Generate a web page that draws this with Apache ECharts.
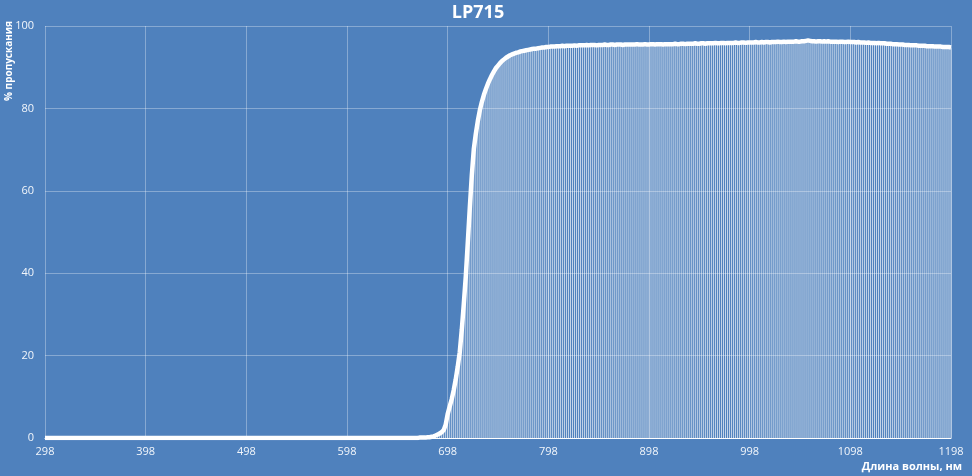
<!DOCTYPE html>
<html>
<head>
<meta charset="utf-8">
<script src="https://cdn.jsdelivr.net/npm/echarts@6/dist/echarts.min.js"></script>
<style>
html,body{margin:0;padding:0;background:#4f81bd;}
#c{width:972px;height:476px;}
</style>
</head>
<body>
<div id="c"></div>
<script>
// Wavelength grid (nm), 2 nm step from 298 to 1198
var wlStart = 298, wlStep = 2, wlCount = 451;
var wavelengths = [];
for (var i = 0; i < wlCount; i++) wavelengths.push(String(wlStart + i * wlStep));

// Transmission (%) 298..678 nm
var transBlocked = [
0,0,0,0,0,0,0,0,0,0,0,0,0,0,0,0,0,0,0,0,
0,0,0,0,0,0,0,0,0,0,0,0,0,0,0,0,0,0,0,0,
0,0,0,0,0,0,0,0,0,0,0,0,0,0,0,0,0,0,0,0,
0,0,0,0,0,0,0,0,0,0,0,0,0,0,0,0,0,0,0,0,
0,0,0,0,0,0,0,0,0,0,0,0,0,0,0,0,0,0,0,0,
0,0,0,0,0,0,0,0,0,0,0,0,0,0,0,0,0,0,0,0,
0,0,0,0,0,0,0,0,0,0,0,0,0,0,0,0,0,0,0,0,
0,0,0,0,0,0,0,0,0,0,0,0,0,0,0,0,0,0,0,0,
0,0,0,0,0,0,0,0,0,0,0,0,0,0,0,0,0,0,0,0,
0,0,0,0,0,0,0.1,0.1,0.1,0.1,0.2
];
// Transmission (%) 680..800 nm (edge)
var transEdge = [
0.2,0.3,0.4,0.6,0.8,1.1,1.4,1.9,3.2,5.8,
7.6,9.4,11.6,14.2,17.3,20.8,26.2,32.5,39.2,47.5,
55.9,63.8,70.2,73.9,77.0,79.6,81.6,83.3,84.7,86.0,
87.1,88.1,89.0,89.8,90.4,91.0,91.5,91.9,92.3,92.6,
92.9,93.1,93.3,93.5,93.6,93.8,93.9,94.0,94.1,94.2,
94.3,94.4,94.5,94.5,94.6,94.7,94.8,94.8,94.9,94.9,
95.0
];
// Transmission (%) 802..1198 nm (pass band)
var transPass = [
95.0,95.0,95.1,95.1,95.1,95.2,95.1,95.2,95.2,95.2,
95.2,95.3,95.2,95.3,95.3,95.3,95.3,95.4,95.3,95.4,
95.4,95.4,95.3,95.4,95.4,95.4,95.5,95.4,95.4,95.5,
95.5,95.4,95.5,95.5,95.5,95.4,95.5,95.5,95.5,95.5,
95.5,95.5,95.6,95.5,95.5,95.5,95.6,95.5,95.5,95.6,
95.6,95.5,95.6,95.6,95.6,95.5,95.6,95.6,95.6,95.6,
95.6,95.7,95.6,95.6,95.7,95.7,95.6,95.7,95.7,95.7,
95.7,95.8,95.7,95.7,95.8,95.8,95.7,95.8,95.8,95.8,
95.8,95.9,95.8,95.8,95.9,95.9,95.8,95.9,95.9,95.9,
95.9,96.0,95.9,95.9,96.0,96.0,95.9,96.0,96.0,96.0,
96.0,96.1,96.0,96.0,96.1,96.0,96.1,96.1,96.0,96.1,
96.1,96.1,96.2,96.1,96.1,96.2,96.1,96.2,96.2,96.2,
96.2,96.3,96.2,96.2,96.3,96.3,96.4,96.5,96.4,96.3,
96.3,96.2,96.3,96.3,96.2,96.3,96.2,96.3,96.2,96.2,
96.2,96.2,96.1,96.2,96.2,96.1,96.1,96.2,96.1,96.1,
96.1,96.0,96.1,96.0,96.0,96.0,95.9,96.0,95.9,95.9,
95.9,95.8,95.9,95.8,95.8,95.8,95.7,95.7,95.7,95.6,
95.6,95.6,95.5,95.5,95.5,95.4,95.4,95.4,95.3,95.3,
95.3,95.3,95.2,95.2,95.2,95.2,95.1,95.1,95.1,95.1,
95.0,95.0,95.0,95.0,94.9,94.9,94.9,94.9,94.8
];
var transmission = transBlocked.concat(transEdge, transPass);

var yTicks = [0, 20, 40, 60, 80, 100];
var titleText = 'LP715';
var yName = '% пропускания';
var xName = 'Длина волны, нм';

var chart = echarts.init(document.getElementById('c'), null, {renderer: 'canvas'});
var gridColor = 'rgba(255,255,255,0.32)';
var font = '"Open Sans", "Liberation Sans", sans-serif';
chart.setOption({
  backgroundColor: '#4f81bd',
  animation: false,
  title: {
    text: titleText, left: 473, top: -1, textAlign: 'center',
    textStyle: {color: '#ffffff', fontSize: 18, fontWeight: 'bold', fontFamily: font}
  },
  grid: {left: 45, right: 21, top: 26, bottom: 38},
  xAxis: {
    type: 'category', data: wavelengths, boundaryGap: false,
    axisLine: {show: true, lineStyle: {color: '#ffffff', width: 1}},
    axisTick: {show: false},
    axisLabel: {interval: 49, color: '#f2f6fb', fontSize: 11, fontFamily: font, margin: 8},
    splitLine: {show: true, interval: 49, lineStyle: {color: gridColor, width: 1}}
  },
  yAxis: {
    type: 'value', min: yTicks[0], max: yTicks[yTicks.length - 1], interval: 20,
    axisLine: {show: false}, axisTick: {show: false},
    axisLabel: {color: '#f2f6fb', fontSize: 11, fontFamily: font, margin: 11},
    splitLine: {show: true, lineStyle: {color: gridColor, width: 1}}
  },
  series: [
    {
      type: 'bar', data: transmission, barWidth: 1, barGap: '-100%',
      itemStyle: {color: 'rgba(255,255,255,0.68)'}, silent: true, z: 2
    },
    {
      type: 'line', data: transmission, showSymbol: false, smooth: false,
      lineStyle: {color: '#ffffff', width: 4.5}, z: 3, silent: true
    }
  ],
  graphic: [
    {type: 'text', x: 9, y: 61, rotation: Math.PI / 2,
     style: {text: yName, fill: '#ffffff', font: 'bold 10px ' + font, align: 'center', verticalAlign: 'middle'}},
    {type: 'text', x: 962, y: 467,
     style: {text: xName, fill: '#ffffff', font: 'bold 11px ' + font, align: 'right', verticalAlign: 'middle'}}
  ]
});
</script>
</body>
</html>
